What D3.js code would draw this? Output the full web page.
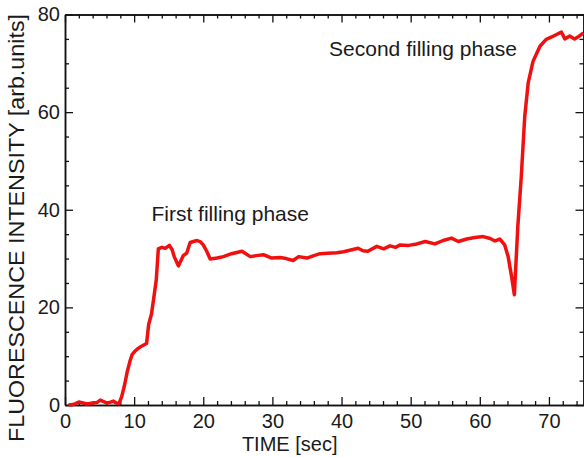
<!DOCTYPE html>
<html>
<head>
<meta charset="utf-8">
<script src="https://cdn.jsdelivr.net/npm/d3@7"></script>
<style>
  body { margin: 0; background: #fff; }
  text { font-family: "Liberation Sans", Arial, Helvetica, sans-serif; fill: #1a1a1a; }
</style>
</head>
<body>
<div id="vis"></div>
<script>
// data
const time = [0.5, 1.2, 2.0, 2.6, 3.2, 4.0, 4.6, 5.1, 5.6, 6.1, 6.6, 7.0, 7.4, 7.8, 8.2, 8.6, 9.0, 9.4, 9.7, 10.1,
  10.5, 11.0, 11.4, 11.8, 12.1, 12.5, 12.8, 13.2, 13.5, 14.0, 14.5, 15.1, 15.5, 15.8, 16.4, 17.1, 17.6, 18.1, 18.6, 19.1,
  19.6, 20.0, 20.5, 21.0, 22.0, 22.9, 24.1, 25.6, 26.8, 27.7, 28.7, 29.9, 31.1, 32.0, 33.0, 33.8, 35.0, 36.0, 36.9, 38.0,
  39.3, 40.3, 41.2, 42.4, 43.1, 43.8, 45.1, 46.1, 47.0, 47.8, 48.5, 49.7, 50.9, 52.1, 53.5, 54.7, 55.9, 56.9, 58.1, 59.3,
  60.5, 61.5, 62.2, 62.9, 63.6, 64.1, 64.6, 65.0, 65.5, 66.0, 66.5, 67.0, 67.7, 68.7, 69.6, 70.4, 71.1, 71.8, 72.3, 73.0,
  73.7, 74.3, 75.0];
const intensity = [0.0, 0.1, 0.6, 0.4, 0.2, 0.4, 0.5, 1.0, 0.7, 0.4, 0.6, 0.8, 0.4, 0.3, 1.7, 4.0, 6.8, 9.0, 10.3, 11.0,
  11.5, 12.0, 12.3, 12.6, 16.5, 18.6, 21.5, 25.6, 32.0, 32.3, 32.1, 32.7, 31.8, 30.4, 28.5, 30.6, 31.1, 33.3, 33.5, 33.7,
  33.4, 32.8, 31.5, 29.9, 30.1, 30.4, 31.0, 31.5, 30.4, 30.6, 30.8, 30.1, 30.2, 30.0, 29.6, 30.4, 30.1, 30.6, 31.0, 31.1,
  31.2, 31.4, 31.7, 32.1, 31.6, 31.5, 32.5, 32.0, 32.6, 32.3, 32.8, 32.7, 33.0, 33.5, 33.0, 33.7, 34.2, 33.5, 34.0, 34.3,
  34.5, 34.1, 33.6, 34.0, 32.8, 30.4, 26.3, 22.6, 36.6, 46.8, 59.1, 66.0, 70.4, 73.5, 74.9, 75.4, 75.9, 76.4, 75.0, 75.6,
  75.0, 75.5, 76.2];
const xTicks = [0, 10, 20, 30, 40, 50, 60, 70];
const yTicks = [0, 20, 40, 60, 80];
const notes = ['First filling phase', 'Second filling phase'];

const W = 584, H = 457;
const margin = {top: 14.5, right: 0.5, bottom: 52, left: 65};
const width = W - margin.left - margin.right;
const height = H - margin.top - margin.bottom;

const svg = d3.select('#vis').append('svg')
    .attr('width', W)
    .attr('height', H)
  .append('g')
    .attr('transform', `translate(${margin.left},${margin.top})`);

const xScale = d3.scaleLinear().domain([0, 75]).range([0, width]);
const yScale = d3.scaleLinear().domain([0, 80]).range([height, 0]);

// minor ticks every 2 s / 5 units, drawn inward on all four sides
const xMinor = d3.range(0, 75.01, 2).filter(v => v % 10 !== 0);
const yMinor = d3.range(0, 80.01, 5).filter(v => v % 20 !== 0);

function styleAxis(g) {
  g.select('.domain').attr('stroke', '#111').attr('stroke-width', 1.5);
  g.selectAll('.tick line').attr('stroke', '#111').attr('stroke-width', 1.3);
  g.selectAll('.tick text').style('font-size', '20px').attr('fill', '#1a1a1a');
}

// bottom
svg.append('g').attr('transform', `translate(0,${height})`)
  .call(d3.axisBottom(xScale).tickValues(xMinor).tickSize(-4).tickFormat('').tickSizeOuter(0))
  .call(styleAxis);
svg.append('g').attr('transform', `translate(0,${height})`)
  .call(d3.axisBottom(xScale).tickValues(xTicks).tickSize(-8).tickPadding(9).tickSizeOuter(0))
  .call(styleAxis);
// top
svg.append('g')
  .call(d3.axisTop(xScale).tickValues(xMinor).tickSize(-4).tickFormat('').tickSizeOuter(0))
  .call(styleAxis);
svg.append('g')
  .call(d3.axisTop(xScale).tickValues(xTicks).tickSize(-8).tickFormat('').tickSizeOuter(0))
  .call(styleAxis);
// left
svg.append('g')
  .call(d3.axisLeft(yScale).tickValues(yMinor).tickSize(-4).tickFormat('').tickSizeOuter(0))
  .call(styleAxis);
svg.append('g')
  .call(d3.axisLeft(yScale).tickValues(yTicks).tickSize(-8).tickPadding(5).tickSizeOuter(0))
  .call(styleAxis);
// right
svg.append('g').attr('transform', `translate(${width},0)`)
  .call(d3.axisRight(yScale).tickValues(yMinor).tickSize(-4).tickFormat('').tickSizeOuter(0))
  .call(styleAxis);
svg.append('g').attr('transform', `translate(${width},0)`)
  .call(d3.axisRight(yScale).tickValues(yTicks).tickSize(-8).tickFormat('').tickSizeOuter(0))
  .call(styleAxis);

// axis titles
svg.append('text')
    .attr('x', xScale(32.5))
    .attr('y', height + 46)
    .style('text-anchor', 'middle')
    .style('font-size', '20px')
    .text('TIME [sec]');
svg.append('text')
    .attr('transform', 'rotate(-90)')
    .attr('x', -(228 - margin.top))
    .attr('y', -margin.left + 24)
    .style('text-anchor', 'middle')
    .style('font-size', '22px')
    .attr('textLength', 428)
    .attr('lengthAdjust', 'spacingAndGlyphs')
    .text('FLUORESCENCE INTENSITY [arb.units]');

// the trace
const points = time.map((t, i) => ({t: t, v: intensity[i]}));
const line = d3.line().x(d => xScale(d.t)).y(d => yScale(d.v));
svg.append('path')
    .datum(points)
    .attr('fill', 'none')
    .attr('stroke', '#f01010')
    .attr('stroke-width', 3.5)
    .attr('stroke-linejoin', 'round')
    .attr('d', line);

// annotations
svg.append('text')
    .attr('x', xScale(12.5))
    .attr('y', yScale(37.6))
    .style('font-size', '21px')
    .text(notes[0]);
svg.append('text')
    .attr('x', xScale(38.2))
    .attr('y', yScale(71.6))
    .style('font-size', '21px')
    .text(notes[1]);
</script>
</body>
</html>
